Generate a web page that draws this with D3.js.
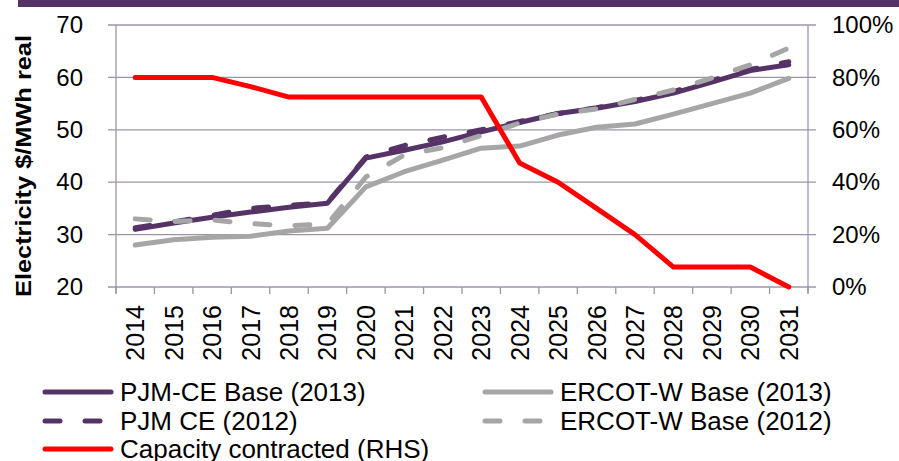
<!DOCTYPE html>
<html>
<head>
<meta charset="utf-8">
<script src="https://cdn.jsdelivr.net/npm/d3@7"></script>
<style>
  body { margin: 0; background: #fff; }
  text { font-family: "Liberation Sans", Arial, sans-serif; fill: #000; }
</style>
</head>
<body>
<svg id="chart" width="899" height="461"></svg>
<script>
// 数据
var years = ['2014', '2015', '2016', '2017', '2018', '2019', '2020', '2021', '2022',
             '2023', '2024', '2025', '2026', '2027', '2028', '2029', '2030', '2031'];

var pjmBase2013   = [31.0, 32.2, 33.3, 34.3, 35.2, 36.0, 44.6, 46.1, 47.7, 49.6, 51.4, 53.1, 54.1, 55.4, 57.0, 59.1, 61.3, 62.4];
var pjm2012       = [31.3, 32.4, 33.7, 35.0, 35.6, 36.1, 44.8, 47.0, 48.6, 50.0, 51.6, 53.1, 54.2, 55.6, 57.3, 59.4, 61.5, 63.0];
var ercotBase2013 = [28.0, 29.0, 29.5, 29.7, 30.7, 31.2, 39.1, 42.0, 44.2, 46.5, 46.9, 49.0, 50.5, 51.1, 53.0, 55.0, 57.0, 59.8];
var ercotBase2012 = [33.0, 32.5, 32.8, 32.1, 31.7, 32.0, 41.0, 45.2, 46.6, 48.9, 51.3, 53.0, 54.0, 55.8, 57.6, 59.9, 62.4, 65.6];
var capacity      = [80, 80, 80, 76.5, 72.5, 72.5, 72.5, 72.5, 72.5, 72.5, 47.3, 40, 30, 20, 7.6, 7.6, 7.6, 0];

var leftTicks  = [20, 30, 40, 50, 60, 70];
var rightTicks = [0, 20, 40, 60, 80, 100];

var purple = '#553366';
var grey = '#a6a6a6';
var red = '#ff0000';
var gridColor = '#9e94a8';

var series = [
    { name: 'PJM-CE Base (2013)',   values: pjmBase2013,   color: purple, dash: null,    axis: 'L' },
    { name: 'ERCOT-W Base (2013)',  values: ercotBase2013, color: grey,   dash: null,    axis: 'L' },
    { name: 'PJM CE (2012)',        values: pjm2012,       color: purple, dash: '15,25', axis: 'L' },
    { name: 'ERCOT-W Base (2012)',  values: ercotBase2012, color: grey,   dash: '15,25', axis: 'L' },
    { name: 'Capacity contracted (RHS)', values: capacity, color: red,    dash: null,    axis: 'R' }
];

var plot = { left: 116, right: 808, top: 25, bottom: 287 };

var svg = d3.select('#chart');

// 顶部紫色条
svg.append('rect')
    .attr('x', 18).attr('y', 0)
    .attr('width', 881).attr('height', 7)
    .attr('fill', purple);

var x = d3.scaleBand().domain(years).range([plot.left, plot.right]);
var yL = d3.scaleLinear().domain([20, 70]).range([plot.bottom, plot.top]);
var yR = d3.scaleLinear().domain([0, 100]).range([plot.bottom, plot.top]);

function cx(d) { return x(d) + x.bandwidth() / 2; }

// 网格线
svg.append('g')
    .selectAll('line')
    .data(leftTicks)
    .enter()
    .append('line')
    .attr('x1', plot.left - 8)
    .attr('x2', plot.right + 8)
    .attr('y1', function (d) { return yL(d); })
    .attr('y2', function (d) { return yL(d); })
    .attr('stroke', gridColor)
    .attr('stroke-width', 1.3);

// 左轴
var leftAxis = svg.append('g')
    .attr('transform', 'translate(' + plot.left + ',0)')
    .call(d3.axisLeft(yL).tickValues(leftTicks).tickSize(8).tickPadding(25));
leftAxis.select('.domain').remove();
leftAxis.selectAll('.tick line').remove();
leftAxis.selectAll('text')
    .style('font-size', '24px')
    .style('font-family', '"Liberation Sans", Arial, sans-serif')
    .attr('fill', '#000');

// 右轴
var rightAxis = svg.append('g')
    .attr('transform', 'translate(' + plot.right + ',0)')
    .call(d3.axisRight(yR).tickValues(rightTicks).tickSize(8)
        .tickPadding(16).tickFormat(function (d) { return d + '%'; }));
rightAxis.select('.domain').remove();
rightAxis.selectAll('.tick line').remove();
rightAxis.selectAll('text')
    .style('font-size', '24px')
    .style('font-family', '"Liberation Sans", Arial, sans-serif')
    .attr('fill', '#000');

// 坐标轴线
[plot.left, plot.right].forEach(function (px) {
    svg.append('line')
        .attr('x1', px).attr('x2', px)
        .attr('y1', plot.top).attr('y2', plot.bottom + 6)
        .attr('stroke', gridColor)
        .attr('stroke-width', 1.3);
});

// 横轴刻度（类别边界）
var bounds = years.map(function (d) { return x(d); }).concat([plot.right]);
svg.append('g')
    .selectAll('line')
    .data(bounds)
    .enter()
    .append('line')
    .attr('x1', function (d) { return d; })
    .attr('x2', function (d) { return d; })
    .attr('y1', plot.bottom)
    .attr('y2', plot.bottom + 7)
    .attr('stroke', gridColor)
    .attr('stroke-width', 1.3);

// 横轴标签
svg.append('g')
    .selectAll('text')
    .data(years)
    .enter()
    .append('text')
    .attr('transform', function (d) {
        return 'translate(' + (cx(d) + 9) + ',305) rotate(-90)';
    })
    .attr('text-anchor', 'end')
    .style('font-size', '25px')
    .text(function (d) { return d; });

// 纵轴标题
svg.append('text')
    .attr('transform', 'translate(31,166) rotate(-90)')
    .attr('text-anchor', 'middle')
    .attr('textLength', 262)
    .attr('lengthAdjust', 'spacingAndGlyphs')
    .style('font-size', '22px')
    .style('font-weight', 'bold')
    .text('Electricity $/MWh real');

// 折线
series.forEach(function (s) {
    var yScale = s.axis === 'R' ? yR : yL;
    var line = d3.line()
        .x(function (d, i) { return cx(years[i]); })
        .y(function (d) { return yScale(d); });
    svg.append('path')
        .datum(s.values)
        .attr('d', line)
        .attr('fill', 'none')
        .attr('stroke', s.color)
        .attr('stroke-width', 5)
        .attr('stroke-linejoin', 'round')
        .attr('stroke-linecap', 'round')
        .attr('stroke-dasharray', s.dash);
});

// 图例
var legendPos = [
    { x: 43, y: 392 },
    { x: 483, y: 392 },
    { x: 43, y: 421 },
    { x: 483, y: 421 },
    { x: 43, y: 449 }
];

var legend = svg.append('g')
    .selectAll('g')
    .data(series)
    .enter()
    .append('g')
    .attr('transform', function (d, i) {
        return 'translate(' + legendPos[i].x + ',' + legendPos[i].y + ')';
    });

legend.append('line')
    .attr('x1', 2).attr('x2', 68)
    .attr('y1', 0).attr('y2', 0)
    .attr('stroke', function (d) { return d.color; })
    .attr('stroke-width', 5)
    .attr('stroke-linecap', 'round')
    .attr('stroke-dasharray', function (d) { return d.dash; });

legend.append('text')
    .attr('x', 77)
    .attr('y', 9)
    .style('font-size', '26px')
    .text(function (d) { return d.name; });
</script>
</body>
</html>
